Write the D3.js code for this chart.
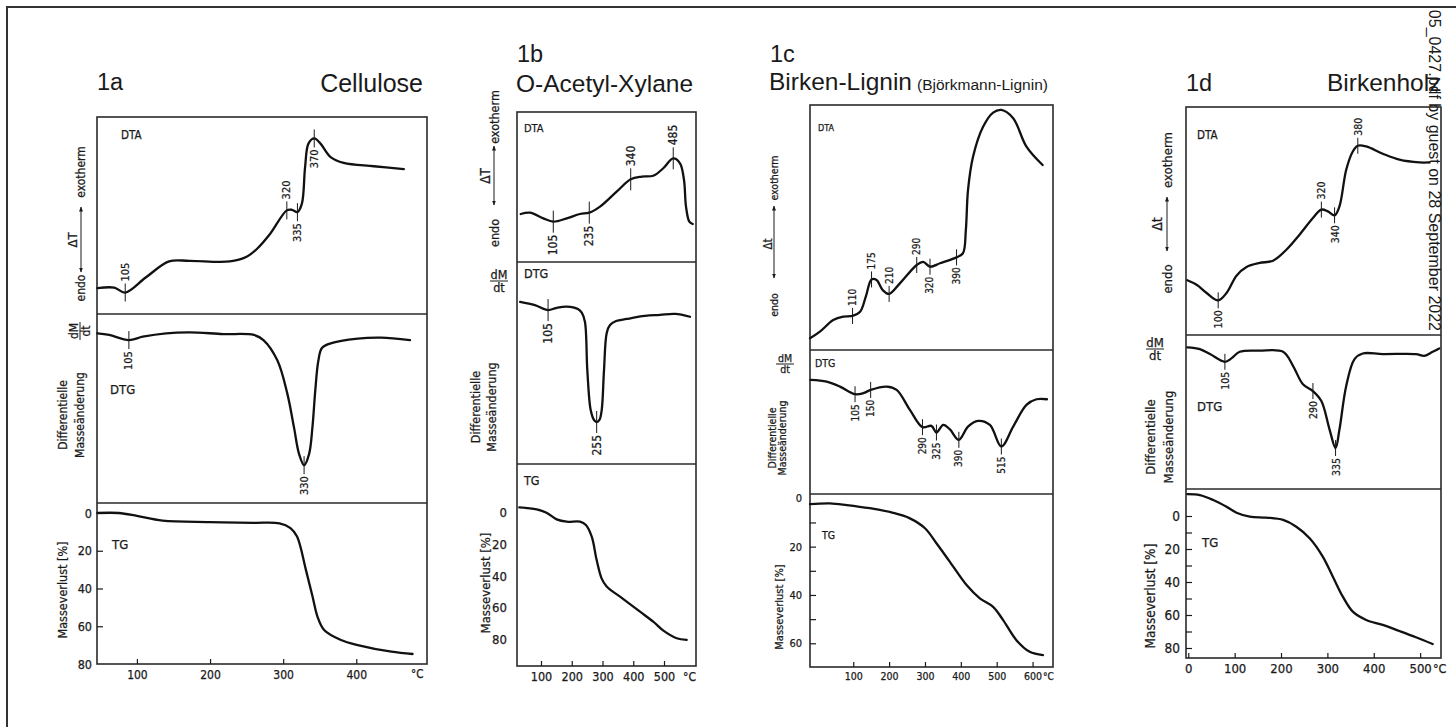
<!DOCTYPE html>
<html lang="de">
<head>
<meta charset="UTF-8">
<title>DTA / DTG / TG - Cellulose, Xylan, Lignin, Birkenholz</title>
<script src="https://cdn.jsdelivr.net/npm/d3@7"></script>
<style>
  body { margin: 0; background: #fff; }
  .title { font-family: "Liberation Sans", Arial, sans-serif; fill: #1a1a1a; }
  .lab { font-family: "DejaVu Sans Condensed", "DejaVu Sans", sans-serif; font-stretch: condensed;
         fill: #1a1a1a; stroke: #1a1a1a; stroke-width: 0.25px; }
</style>
</head>
<body>
<svg id="chart" width="1456" height="727"></svg>
<script>
// ---- Daten : [Temperatur °C, Wert] ----
// DTA/DTG: relative Auslenkung 0..100 (0 = oben im Feld), TG: Masseverlust %

// 1a Cellulose
var celluloseDTA = [[46,86.9],[69,86.6],[84,89.1],[112,81.5],[144,73.3],[172,73],[227,73.3],[250,70.9],[264,67],[282,59.4],[305,47.4],[312,47.1],[319.5,48.3],[325.6,44],[330,25.3],[334.7,13.4],[342.5,10.9],[350.8,13.4],[364.5,20.2],[382.8,23.3],[424,25],[465,26.5]];
var celluloseDTAPeaks = [{t:84,label:"105"},{t:305,label:"320"},{t:319.5,label:"335"},{t:342.5,label:"370"}];
var celluloseDTG = [[46,10.2],[62,11.1],[89,13.8],[108,12],[140,10.2],[172,9.7],[218,10.6],[260,11.1],[273,13.8],[292,24.5],[305.6,42],[314.8,60],[321.7,74],[328.6,80],[335.5,74],[340,60],[344,40],[348,25],[353,18],[365,15.5],[402,13],[434,12.5],[473.5,13.8]];
var celluloseDTGPeaks = [{t:89,label:"105"},{t:328.6,label:"330"}];
var celluloseTG = [[46,0],[75,0],[100,1.5],[135,4],[200,4.8],[260,5.2],[295,5.5],[310,8],[319,12.5],[331,30],[340,44],[347,55],[356,62],[379,67.3],[402,70],[448,73.5],[477,74.7]];
var celluloseTempTicks = [100, 200, 300, 400];
var celluloseTGTicks = [0, 20, 40, 60, 80];

// 1b O-Acetyl-Xylan
var xylanDTA = [[34,68],[64,67.1],[107.5,70.9],[140,73.1],[183.6,70.9],[226.8,68],[257,67.1],[292,63.1],[346,53.1],[391.7,44.9],[427.5,43.1],[465,42.5],[497.7,37.5],[530,30.9],[552,34.2],[565,45.3],[571.5,63.1],[582.3,73.1],[593.3,74.7]];
var xylanDTAPeaks = [{t:140,label:"105"},{t:257,label:"235"},{t:391.7,label:"340"},{t:530,label:"485"}];
var xylanDTG = [[32,19.7],[80,21.3],[123,23.8],[149,22.8],[184,22.1],[220,23.3],[233,25.2],[243,29.7],[250.6,53.5],[261.6,73.3],[272.4,78.2],[281,79.2],[290,78.2],[297.4,73.3],[304.9,53.5],[313.7,35.1],[324.4,31.2],[344,29.2],[378.7,28.2],[438,26.7],[487,26.2],[536,25.7],[584.6,27.1]];
var xylanDTGPeaks = [{t:123,label:"105"},{t:281,label:"255"}];
var xylanTG = [[29.5,-3.4],[86,-2.1],[118,0],[151,4.2],[183.5,5.7],[227,5.7],[246,7.8],[265,15.2],[281,30],[297,41.6],[313.5,46.8],[357,53.2],[422,62.7],[465,69],[498,74.7],[541,79.5],[573.7,80.6]];
var xylanTempTicks = [100, 200, 300, 400, 500];
var xylanTGTicks = [0, 20, 40, 60, 80];

// 1c Birken-Lignin
var ligninDTA = [[-20.6,95.2],[7,92.5],[44,87.8],[72,86.4],[98,86.1],[119,84.4],[135,78.2],[151,71.2],[165,71.4],[182,75.5],[200,77.1],[230,72.8],[277,65.3],[295,64],[314,66],[342,64.6],[388,62.2],[406,60.5],[414,51],[420,34.7],[434,21.1],[462,8.9],[490,3.1],[513,2],[546,5.4],[583,17],[628,24.5]];
var ligninDTAPeaks = [{t:98,label:"110"},{t:151,label:"175"},{t:200,label:"210"},{t:277,label:"290"},{t:314,label:"320"},{t:388,label:"390"}];
var ligninDTG = [[-19,20.8],[26,22],[63,25.4],[105,30.7],[128,30],[148.5,27.7],[193,25.4],[221,27.7],[258,41.6],[293,53.6],[318,52.7],[332,57.3],[351,52],[369,55],[394.5,62.4],[420,53.2],[448,49.2],[481,52],[513,67],[546,53.2],[583,38.1],[611,34.2],[640,34.2]];
var ligninDTGPeaks = [{t:105,label:"105"},{t:148.5,label:"150"},{t:293,label:"290"},{t:332,label:"325"},{t:394.5,label:"390"},{t:513,label:"515"}];
var ligninTG = [[-20.6,2.4],[35,2.1],[82,2.8],[146,4.1],[211,6],[258,8.3],[300,12.4],[332,18.6],[369,26.2],[416,35.9],[453,41.4],[490,44.9],[518,50.4],[555,58.7],[592,63.5],[629,64.9]];
var ligninTempTicks = [100, 200, 300, 400, 500, 600];
var ligninTGTicks = [0, 20, 40, 60];

// 1d Birkenholz
var birchDTA = [[-2,76],[18,78],[39.6,81.6],[64.5,84.8],[82.5,81.6],[104,74],[125.6,70.2],[154,68.4],[182.8,67.4],[211.5,62.6],[240,56],[268.8,48.7],[287,45],[301,45.8],[315.5,47.5],[326,43.6],[340.6,27.5],[354.8,19.5],[365.6,17],[383.6,17.3],[419.4,20.5],[455.3,23.1],[498,24.3],[520,24.3]];
var birchDTAPeaks = [{t:64.5,label:"100"},{t:287,label:"320"},{t:315.5,label:"340"},{t:365.6,label:"380"}];
var birchDTG = [[-2,8],[25,9.2],[46.7,12.4],[79,17.4],[93,15.2],[111,10.9],[154,10.2],[204.5,10.9],[225.8,20],[247.3,32],[268.8,36.4],[287,42.9],[304.7,61.4],[317.6,73.4],[326,61.4],[340.6,33.1],[358.5,15.7],[376.3,12],[419.4,12.4],[491,12.4],[509,13.5],[527,10.9],[541,8.7]];
var birchDTGPeaks = [{t:79,label:"105"},{t:268.8,label:"290"},{t:317.6,label:"335"}];
var birchTG = [[-2,-13.3],[25,-12.7],[53.8,-9.7],[82.5,-5.6],[104,-2],[132.7,0.4],[168.6,1],[204.5,2.4],[233,6.5],[261.7,13.5],[290,24.6],[311.8,36.8],[333.3,48.9],[354.8,58],[383.6,63],[419.4,66],[455.3,69.7],[491,73.5],[527,77.6]];
var birchTempTicks = [0, 100, 200, 300, 400, 500];
var birchTGTicks = [0, 20, 40, 60, 80];

// ---- Layout ----
var panels = [
  { num:"1a", name:"Cellulose", nameAnchor:"end", numX:97, numY:90, nameX:423, nameY:92, nameSize:25,
    left:97, right:427, top:117, div1:314, div2:503, bottom:664, cX:411,
    xDomain:[45.4,496.7], tgDomain:[0,80], tgRange:[513,664],
    dta:celluloseDTA, dtg:celluloseDTG, tg:celluloseTG, dtaPeaks:celluloseDTAPeaks, dtgPeaks:celluloseDTGPeaks,
    dtaSides:[-1,-1,1,1], dtgSides:[1,1], xTicks:celluloseTempTicks, tgTicks:celluloseTGTicks, tgMinor:[20,40,60],
    fs:12, pfs:11, ph:9, delta:"ΔT", arrowX:81, exoY:172, arrowY:[207,272], deltaPos:[72,240], endoY:288,
    dmdt:{x:80,y:331,rot:true}, diff:{x1:63,x2:80,y:415}, mv:{x:62,y:590}, ylabPad:5,
    lbl:{dta:[121,139], dtg:[110,394], tg:[112,549]}, lblSize:13 },
  { num:"1b", name:"O-Acetyl-Xylane", nameAnchor:"start", numX:517, numY:62, nameX:516, nameY:92, nameSize:24.5,
    left:517, right:696, top:112, div1:262, div2:464, bottom:666, cX:683,
    xDomain:[22,604], tgDomain:[0,80], tgRange:[512.7,639],
    dta:xylanDTA, dtg:xylanDTG, tg:xylanTG, dtaPeaks:xylanDTAPeaks, dtgPeaks:xylanDTGPeaks,
    dtaSides:[1,1,-1,-1], dtgSides:[1,1], xTicks:xylanTempTicks, tgTicks:xylanTGTicks, tgMinor:[],
    fs:12.5, pfs:12, ph:11, delta:"ΔT", arrowX:494, exoY:117, arrowY:[146,205], deltaPos:[485,176], endoY:233,
    dmdt:{x:499,y:281,rot:false}, diff:{x1:475,x2:491,y:407}, mv:{x:485,y:583}, ylabPad:10,
    lbl:{dta:[524,132], dtg:[524,278], tg:[524,485]}, lblSize:12.5 },
  { num:"1c", name:"Birken-Lignin", nameAnchor:"start", numX:770, numY:62, nameX:769, nameY:90, nameSize:24.5,
    sub:"(Björkmann-Lignin)", subX:917, subSize:15.5,
    left:810, right:1053, top:105, div1:350, div2:494, bottom:667, cX:1043,
    xDomain:[-20.6,657], tgDomain:[0,60], tgRange:[498.3,643.3],
    dta:ligninDTA, dtg:ligninDTG, tg:ligninTG, dtaPeaks:ligninDTAPeaks, dtgPeaks:ligninDTGPeaks,
    dtaSides:[-1,-1,-1,-1,1,1], dtgSides:[1,1,1,1,1,1], xTicks:ligninTempTicks, tgTicks:ligninTGTicks, tgMinor:[10,20,30,40,50,60],
    fs:10.5, pfs:10, ph:8, delta:"Δt", arrowX:774, exoY:178, arrowY:[206,278], deltaPos:[768,244], endoY:305,
    dmdt:{x:785,y:364,rot:false}, diff:{x1:772,x2:782,y:438}, mv:{x:779,y:607}, ylabPad:8,
    lbl:{dta:[818,131], dtg:[815,367], tg:[822,539]}, lblSize:10.5 },
  { num:"1d", name:"Birkenholz", nameAnchor:"start", numX:1186, numY:91, nameX:1327, nameY:91, nameSize:24.5,
    left:1186, right:1441, top:107, div1:335, div2:489, bottom:658, cX:1433,
    xDomain:[-4.9,545], tgDomain:[0,80], tgRange:[516,648],
    dta:birchDTA, dtg:birchDTG, tg:birchTG, dtaPeaks:birchDTAPeaks, dtgPeaks:birchDTGPeaks,
    dtaSides:[1,-1,1,-1], dtgSides:[1,1,1], xTicks:birchTempTicks, tgTicks:birchTGTicks, tgMinor:[0,10,20,30,40,50,60,70,80],
    fs:13, pfs:10.5, ph:8, delta:"Δt", arrowX:1167, exoY:160, arrowY:[197,251], deltaPos:[1157,224], endoY:279,
    dmdt:{x:1155,y:349,rot:false}, diff:{x1:1150,x2:1168,y:437}, mv:{x:1150,y:596}, ylabPad:6,
    lbl:{dta:[1197,139], dtg:[1197,411], tg:[1202,547]}, lblSize:13 }
];

var svg = d3.select("#chart");
var ink = "#1a1a1a";

var defs = svg.append("defs");
defs.append("marker").attr("id", "ah")
  .attr("viewBox", "0 0 10 10").attr("refX", 9).attr("refY", 5)
  .attr("markerWidth", 5).attr("markerHeight", 5).attr("orient", "auto-start-reverse")
  .append("path").attr("d", "M0,1 L10,5 L0,9 z").attr("fill", ink);

// Rahmen
svg.append("path").attr("d", "M7,727 V7 H1456").attr("fill", "none").attr("stroke", "#333").attr("stroke-width", 2);

// gedrehter Text (von unten nach oben lesend)
function vtext(g, x, y, s, anchor, size) {
  return g.append("text").attr("class", "lab")
    .attr("transform", "translate(" + x + "," + y + ") rotate(-90)")
    .attr("text-anchor", anchor).attr("dominant-baseline", "central")
    .attr("font-size", size).text(s);
}

function valueAt(data, t) {
  var i = d3.bisector(function (d) { return d[0]; }).left(data, t);
  if (i <= 0) return data[0][1];
  if (i >= data.length) return data[data.length - 1][1];
  var a = data[i - 1], b = data[i];
  return a[1] + (b[1] - a[1]) * (t - a[0]) / (b[0] - a[0]);
}

function drawCurve(g, data, x, y) {
  var line = d3.line()
    .x(function (d) { return x(d[0]); })
    .y(function (d) { return y(d[1]); })
    .curve(d3.curveCatmullRom.alpha(0.5));
  g.append("path").datum(data).attr("d", line)
    .attr("fill", "none").attr("stroke", "#111").attr("stroke-width", 2.3)
    .attr("stroke-linejoin", "round").attr("stroke-linecap", "round");
}

function drawPeaks(g, p, data, peaks, sides, x, y) {
  peaks.forEach(function (pk, i) {
    var px = x(pk.t), py = y(valueAt(data, pk.t));
    var s = sides[i];
    g.append("line").attr("x1", px).attr("x2", px)
      .attr("y1", py - p.ph).attr("y2", py + p.ph)
      .attr("stroke", ink).attr("stroke-width", 1);
    if (s < 0) vtext(g, px, py - p.ph - 2, pk.label, "start", p.pfs);
    else vtext(g, px, py + p.ph + 2, pk.label, "end", p.pfs);
  });
}

function drawPanel(p) {
  var g = svg.append("g");
  var x = d3.scaleLinear().domain(p.xDomain).range([p.left, p.right]);
  var yDTA = d3.scaleLinear().domain([0, 100]).range([p.top, p.div1]);
  var yDTG = d3.scaleLinear().domain([0, 100]).range([p.div1, p.div2]);
  var yTG = d3.scaleLinear().domain(p.tgDomain).range(p.tgRange);

  // Titel
  g.append("text").attr("class", "title").attr("x", p.numX).attr("y", p.numY)
    .attr("font-size", 23.5).text(p.num);
  g.append("text").attr("class", "title").attr("x", p.nameX).attr("y", p.nameY)
    .attr("font-size", p.nameSize).attr("text-anchor", p.nameAnchor).text(p.name);
  if (p.sub) {
    g.append("text").attr("class", "title").attr("x", p.subX).attr("y", p.nameY)
      .attr("font-size", p.subSize).text(p.sub);
  }

  // Felder
  g.append("rect").attr("x", p.left).attr("y", p.top)
    .attr("width", p.right - p.left).attr("height", p.bottom - p.top)
    .attr("fill", "none").attr("stroke", "#2a2a2a").attr("stroke-width", 1.6);
  [p.div1, p.div2].forEach(function (yy) {
    g.append("line").attr("x1", p.left).attr("x2", p.right).attr("y1", yy).attr("y2", yy)
      .attr("stroke", "#2a2a2a").attr("stroke-width", 1.6);
  });

  // Kurven
  drawCurve(g, p.dta, x, yDTA);
  drawCurve(g, p.dtg, x, yDTG);
  drawCurve(g, p.tg, x, yTG);
  drawPeaks(g, p, p.dta, p.dtaPeaks, p.dtaSides, x, yDTA);
  drawPeaks(g, p, p.dtg, p.dtgPeaks, p.dtgSides, x, yDTG);

  // Temperaturachse
  var xAxis = g.append("g").attr("transform", "translate(0," + p.bottom + ")")
    .call(d3.axisBottom(x).tickValues(p.xTicks).tickSize(-5).tickPadding(6).tickFormat(d3.format("d")));
  xAxis.select(".domain").remove();
  xAxis.selectAll("line").attr("stroke", ink).attr("stroke-width", 1.2);
  xAxis.selectAll("text").attr("class", "lab").attr("font-size", p.fs).attr("fill", ink);
  g.append("text").attr("class", "lab").attr("x", p.cX).attr("y", p.bottom + 6)
    .attr("dy", "0.71em").attr("text-anchor", "start").attr("font-size", p.fs - 0.5).text("°C");

  // TG-Achse
  var yAxis = g.append("g").attr("transform", "translate(" + p.left + ",0)")
    .call(d3.axisLeft(yTG).tickValues(p.tgTicks).tickSize(0).tickPadding(p.ylabPad).tickFormat(d3.format("d")));
  yAxis.select(".domain").remove();
  yAxis.selectAll("text").attr("class", "lab").attr("font-size", p.fs + 0.5).attr("fill", ink);
  var minor = g.append("g").attr("transform", "translate(" + p.left + ",0)")
    .call(d3.axisLeft(yTG).tickValues(p.tgMinor).tickSize(-6).tickFormat(""));
  minor.select(".domain").remove();
  minor.selectAll("line").attr("stroke", ink).attr("stroke-width", 1.2);

  // Feldbezeichnungen
  [["DTA", p.lbl.dta], ["DTG", p.lbl.dtg], ["TG", p.lbl.tg]].forEach(function (l) {
    g.append("text").attr("class", "lab").attr("x", l[1][0]).attr("y", l[1][1])
      .attr("font-size", l[0] === "DTA" ? p.lblSize - 1.5 : p.lblSize).text(l[0]);
  });

  // linke Beschriftungen
  vtext(g, p.arrowX, p.exoY, "exotherm", "middle", p.fs);
  vtext(g, p.arrowX, p.endoY, "endo", "middle", p.fs);
  g.append("line").attr("x1", p.arrowX).attr("x2", p.arrowX)
    .attr("y1", p.arrowY[0]).attr("y2", p.arrowY[1])
    .attr("stroke", ink).attr("stroke-width", 1)
    .attr("marker-start", "url(#ah)").attr("marker-end", "url(#ah)");
  vtext(g, p.deltaPos[0], p.deltaPos[1], p.delta, "middle", p.fs + 1);

  var f = g.append("g").attr("transform", "translate(" + p.dmdt.x + "," + p.dmdt.y + ")" + (p.dmdt.rot ? " rotate(-90)" : ""));
  f.append("text").attr("class", "lab").attr("y", -2.5).attr("text-anchor", "middle").attr("font-size", p.fs).text("dM");
  f.append("line").attr("x1", -9).attr("x2", 9).attr("stroke", ink).attr("stroke-width", 1);
  f.append("text").attr("class", "lab").attr("y", p.fs * 0.85).attr("text-anchor", "middle").attr("font-size", p.fs).text("dt");

  vtext(g, p.diff.x1, p.diff.y, "Differentielle", "middle", p.fs);
  vtext(g, p.diff.x2, p.diff.y, "Masseänderung", "middle", p.fs);
  vtext(g, p.mv.x, p.mv.y, "Masseverlust  [%]", "middle", p.fs + 0.5);
}

panels.forEach(drawPanel);

// Download-Vermerk am rechten Rand
svg.append("text").attr("class", "title")
  .attr("transform", "translate(1429,331) rotate(90)")
  .attr("text-anchor", "end").attr("font-size", 16).attr("fill", "#222")
  .text("05_0427.pdf by guest on 28 September 2022");
</script>
</body>
</html>
